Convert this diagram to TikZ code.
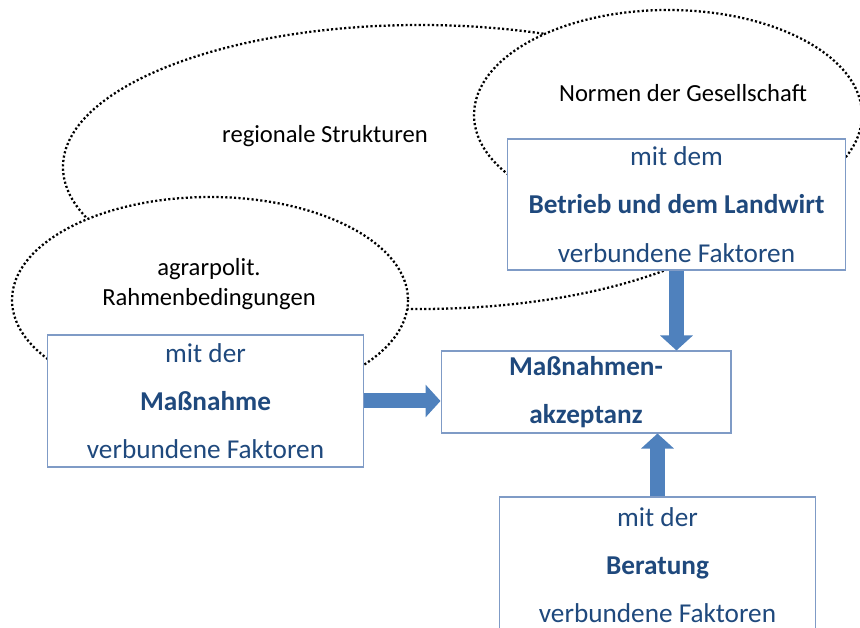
\documentclass[tikz,border=0pt]{standalone}
\usepackage{fontspec}
\setmainfont{Carlito}
\usetikzlibrary{arrows.meta,calc}
\definecolor{boxline}{HTML}{7F9BC6}
\definecolor{boxtext}{HTML}{1F497D}
\definecolor{arrowfill}{HTML}{4F81BD}

\begin{document}
\begin{tikzpicture}[x=0.02cm,y=-0.02cm,
  cloudline/.style={line width=1.3pt,dash pattern=on 1.2pt off 1.3pt,fill=white},
  cloudtext/.style={align=center,font=\fontsize{14}{17}\selectfont},
  factorbox/.style={draw=boxline,fill=white,line width=0.6pt,text=boxtext,align=center,
    font=\fontsize{15.5}{27.5}\selectfont,inner sep=0pt},
  blockarrow/.style={draw=arrowfill,line width=0.3cm,-{Triangle[width=0.64cm,length=0.3cm]}}]
\useasboundingbox (0,0) rectangle (860,628);
\clip (0,0) rectangle (860,628);
\draw[cloudline] (420,167) ellipse [x radius=357,y radius=142];
\draw[cloudline] (668,115) ellipse [x radius=194,y radius=105];
\draw[cloudline] (210,300) ellipse [x radius=198,y radius=103];
\node[cloudtext] (regional) at (325,136) {regionale Strukturen};
\node[cloudtext] (normen) at (683,93) {Normen der Gesellschaft};
\node[cloudtext] (agrar) at (209,284) {agrarpolit.\\Rahmenbedingungen};
\node[factorbox,minimum width=6.78cm,minimum height=2.62cm] (betrieb) at (676.5,204.5)
  {mit dem\\\textbf{Betrieb und dem Landwirt}\\verbundene Faktoren};
\node[factorbox,minimum width=6.34cm,minimum height=2.64cm] (massnahme) at (205.5,401)
  {mit der\\\textbf{Maßnahme}\\verbundene Faktoren};
\node[factorbox,minimum width=5.8cm,minimum height=1.64cm] (akzeptanz) at (586,392)
  {\textbf{Maßnahmen-}\\\textbf{akzeptanz}};
\node[factorbox,minimum width=6.34cm,minimum height=2.72cm] (beratung) at (657.5,565)
  {mit der\\\textbf{Beratung}\\verbundene Faktoren};
\draw[blockarrow] (betrieb.south) -- (betrieb.south |- akzeptanz.north);
\draw[blockarrow] (massnahme.east) -- (massnahme.east -| akzeptanz.west);
\draw[blockarrow] (beratung.north) -- (beratung.north |- akzeptanz.south);
\end{tikzpicture}
\end{document}
